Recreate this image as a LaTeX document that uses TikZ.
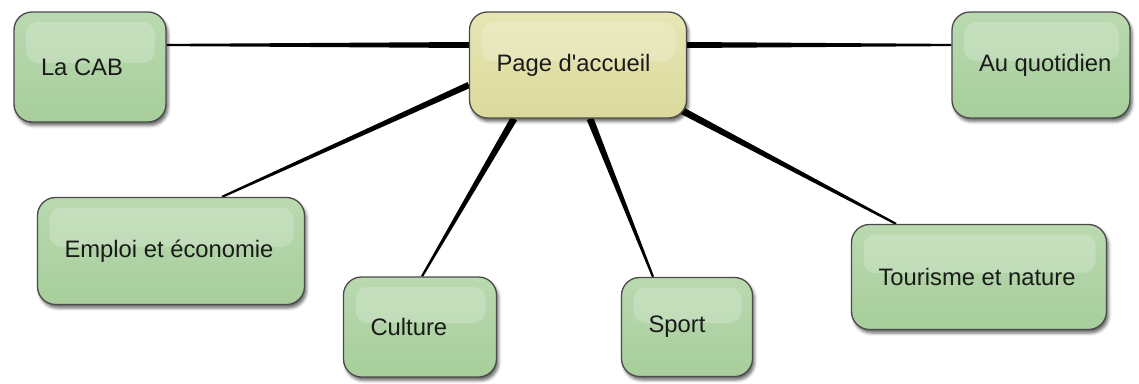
\documentclass[tikz,border=0pt]{standalone}
\usepackage{fontspec}
\setmainfont{Liberation Sans}
\usetikzlibrary{calc,backgrounds,shadows.blur}
\definecolor{gtop}{HTML}{BAD9B0}
\definecolor{gbot}{HTML}{A7CE9B}
\definecolor{ytop}{HTML}{E6E6B4}
\definecolor{ybot}{HTML}{DBDA9C}
\definecolor{bord}{HTML}{4A4A4A}
\definecolor{txt}{HTML}{1A1A1A}
\tikzset{
  box/.style={rounded corners=18pt, draw=bord, line width=1.3pt, inner xsep=27pt, inner ysep=0pt,
    font=\fontsize{23.8}{28}\selectfont, text=txt,
    blur shadow={shadow xshift=2pt, shadow yshift=-3.5pt, shadow blur radius=3pt, shadow opacity=60},
    path picture={\fill[white, opacity=0.2, rounded corners=12pt]
      ($(path picture bounding box.north west)+(12,10)$) rectangle ($(path picture bounding box.east)+(-11,-4)$);}},
  greenbox/.style={box, top color=gtop, bottom color=gbot},
  yellowbox/.style={box, top color=ytop, bottom color=ybot},
  link/.style={fill=black},
}
\newcommand\bx[6]{\node[#6, minimum height=#4pt] (#1) at (#2) {\makebox[\dimexpr#3pt-54pt\relax][l]{#5}};}
\newcommand\taper[4]{\fill[link] ($#1!#3!90:#2$) -- ($#2!#4!-90:#1$) -- ($#2!#4!90:#1$) -- ($#1!#3!-90:#2$) -- cycle;}
\begin{document}
\begin{tikzpicture}[x=1pt,y=-1pt]
\useasboundingbox (0,0) rectangle (1139,383);
\bx{c}{578,65}{217}{106}{Page d\textquotesingle accueil}{yellowbox}
\bx{cab}{90,67}{152}{110}{La CAB}{greenbox}
\bx{au}{1041,65}{178}{106}{Au quotidien}{greenbox}
\bx{emp}{171,251}{267}{107}{Emploi et économie}{greenbox}
\bx{cul}{420,327}{153}{100}{Culture}{greenbox}
\bx{sp}{687,327}{131}{99}{Sport}{greenbox}
\bx{tou}{979,277}{255}{105}{Tourisme et nature}{greenbox}
\coordinate (cL) at ($(c.west)+(0,-20)$);
\coordinate (cR) at ($(c.east)+(0,-20)$);
\coordinate (cLE) at ($(c.west)+(0,20)$);
\coordinate (cCu) at ($(c.south)+(-64,0)$);
\coordinate (cSp) at ($(c.south)+(12,0)$);
\coordinate (cTo) at ($(c.south east)+(-5,-8)$);
\coordinate (cabR) at ($(cab.east)+(0,-22)$);
\coordinate (auL) at ($(au.west)+(0,-20)$);
\coordinate (empT) at ($(emp.north)+(51,0)$);
\coordinate (culT) at ($(cul.north)+(2,0)$);
\coordinate (spT) at ($(sp.north)+(-34,0)$);
\coordinate (touT) at ($(tou.north)+(-83,0)$);
\begin{scope}[on background layer]
\taper{(cL)}{(cabR)}{3pt}{1.1pt}
\taper{(cR)}{(auL)}{3pt}{1.1pt}
\taper{(cLE)}{(empT)}{3.2pt}{1.1pt}
\taper{(cCu)}{(culT)}{3.5pt}{1.1pt}
\taper{(cSp)}{(spT)}{3.5pt}{1.1pt}
\taper{(cTo)}{(touT)}{3.5pt}{1.1pt}
\end{scope}
\end{tikzpicture}
\end{document}
